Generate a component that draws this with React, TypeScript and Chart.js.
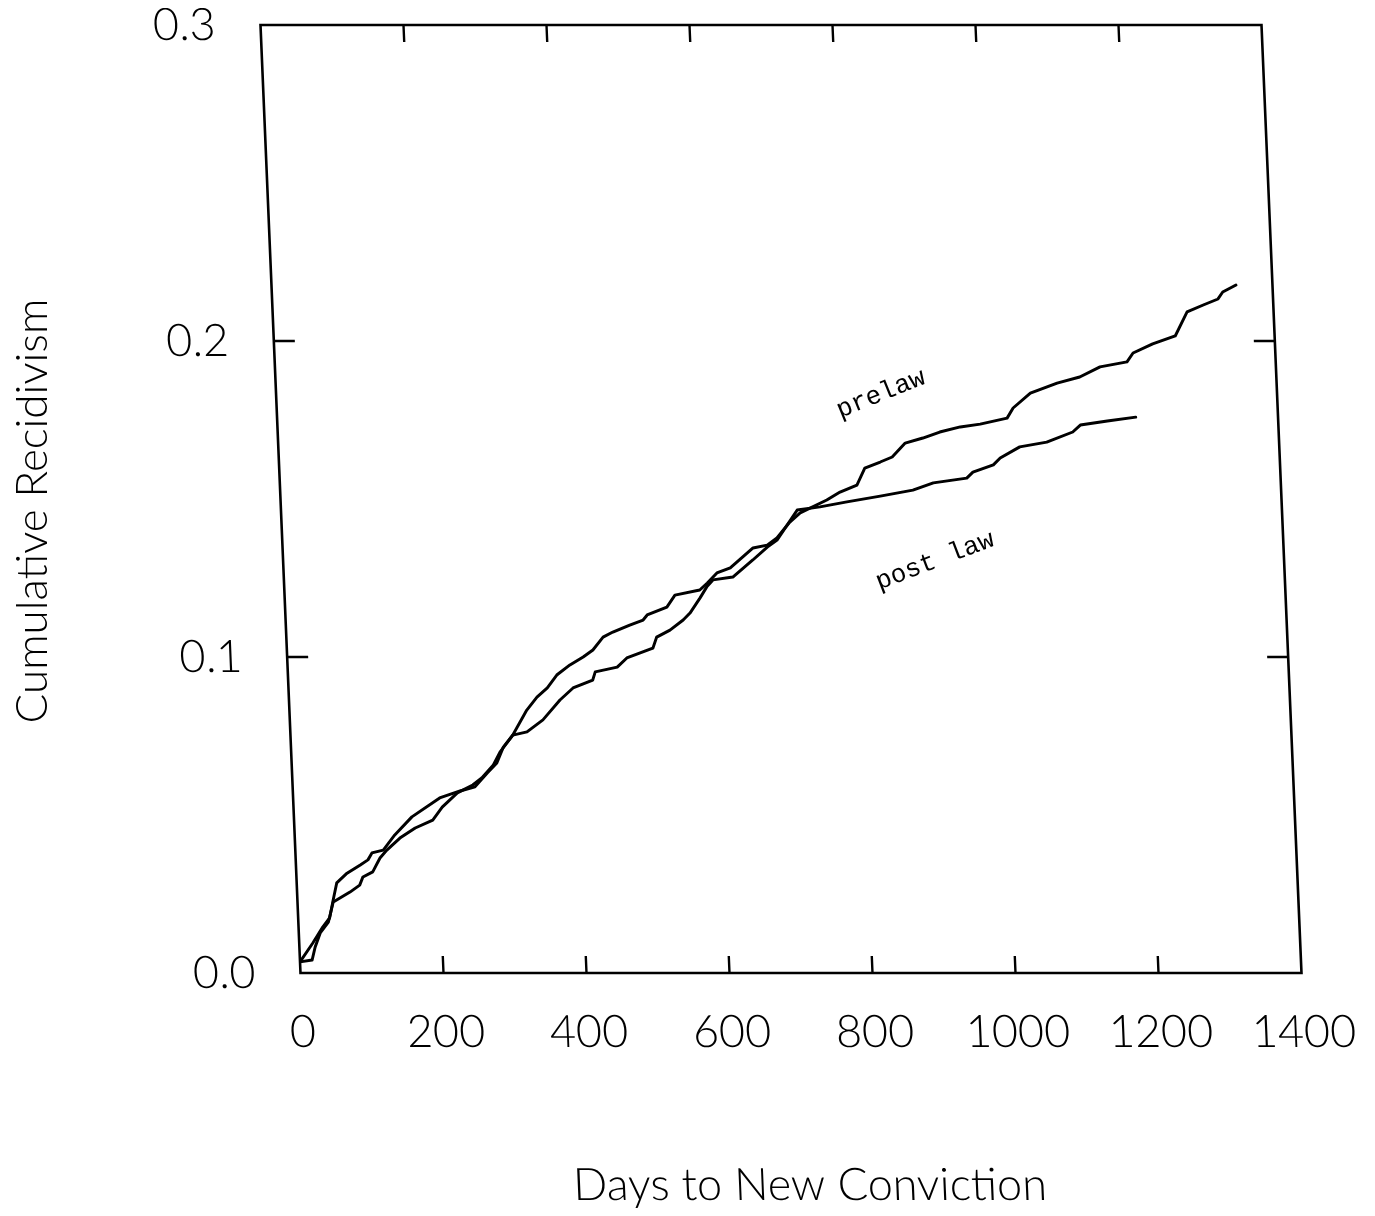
import React, { useEffect, useRef } from "react";
import { Chart, registerables } from "chart.js";

Chart.register(...registerables);

// ---- data ----
const xTickValues = [0, 200, 400, 600, 800, 1000, 1200, 1400];
const yTickValues = [0, 0.1, 0.2, 0.3];
const innerXTicks = [200, 400, 600, 800, 1000, 1200];
const innerYTicks = [0.1, 0.2];

const prelawDays = [
  0, 19, 34, 44, 50, 56, 71, 90, 101, 107, 123, 140, 165, 205, 234, 255, 273, 287, 297, 311,
  332, 347, 362, 376, 395, 414, 428, 443, 457, 481, 500, 506, 534, 546, 581, 592, 606, 625,
  658, 678, 692, 711, 726, 764, 783, 807, 819, 841, 858, 877, 902, 926, 955, 983, 1021, 1030,
  1055, 1093, 1125, 1154, 1192, 1201, 1229, 1261, 1279, 1302, 1323, 1330, 1349,
];
const prelawRate = [
  0.0035, 0.0095, 0.0146, 0.0174, 0.0231, 0.0285, 0.0316, 0.0342, 0.0358, 0.038, 0.0389,
  0.0437, 0.0494, 0.0554, 0.0576, 0.0589, 0.0633, 0.0665, 0.0715, 0.0753, 0.0832, 0.0873,
  0.0902, 0.0943, 0.0975, 0.1, 0.1022, 0.1063, 0.1079, 0.1101, 0.1117, 0.1133, 0.1158,
  0.1196, 0.1212, 0.1234, 0.1266, 0.1282, 0.1345, 0.1354, 0.1377, 0.1427, 0.1456, 0.1497,
  0.1522, 0.1544, 0.1598, 0.1617, 0.1633, 0.1677, 0.1693, 0.1712, 0.1728, 0.1737, 0.1756,
  0.1788, 0.1835, 0.1867, 0.1886, 0.1918, 0.1934, 0.1962, 0.1991, 0.2016, 0.2092, 0.2114,
  0.2133, 0.2155, 0.2177,
];

const postlawDays = [
  0, 17, 22, 30, 42, 50, 74, 88, 93, 107, 114, 118, 128, 147, 169, 194, 208, 230, 252, 265,
  282, 292, 311, 331, 354, 379, 398, 426, 430, 461, 475, 512, 518, 537, 556, 566, 581, 591,
  600, 628, 657, 678, 692, 722, 754, 792, 839, 885, 914, 961, 970, 999, 1009, 1037, 1075,
  1112, 1123, 1161, 1201,
];
const postlawRate = [
  0.0035, 0.0041, 0.0082, 0.0127, 0.0161, 0.0225, 0.0256, 0.0278, 0.0304, 0.032, 0.0348,
  0.0364, 0.0389, 0.0427, 0.0459, 0.0484, 0.0525, 0.057, 0.0595, 0.0617, 0.0658, 0.0699,
  0.0753, 0.0763, 0.0801, 0.0864, 0.0902, 0.0927, 0.0953, 0.0968, 0.0997, 0.1028, 0.1063,
  0.1085, 0.1117, 0.1139, 0.1187, 0.1222, 0.1244, 0.1253, 0.1307, 0.1348, 0.137, 0.1465,
  0.1475, 0.1491, 0.1509, 0.1528, 0.1551, 0.1566, 0.1585, 0.1608, 0.163, 0.1665, 0.168,
  0.1712, 0.1734, 0.1747, 0.1759,
];

const xTitle = "Days to New Conviction";
const yTitle = "Cumulative Recidivism";
const seriesLabels = ["prelaw", "post law"];

// ---- layout constants ----
const W = 1359;
const H = 1200;
const SKEW = 0.0422;
const AREA = { left: 292.5, right: 1293.5, top: 17, bottom: 965 };
const FONT = "Lato, 'DejaVu Sans', sans-serif";

const framePlugin = {
  id: "skewFrame",
  afterLayout(chart: any) {
    const ca = chart.chartArea;
    ca.left = AREA.left;
    ca.right = AREA.right;
    ca.top = AREA.top;
    ca.bottom = AREA.bottom;
    ca.width = AREA.right - AREA.left;
    ca.height = AREA.bottom - AREA.top;
    const xs = chart.scales.x;
    xs.left = AREA.left;
    xs.right = AREA.right;
    xs.width = AREA.right - AREA.left;
    xs.top = AREA.bottom;
    xs.bottom = H;
    xs.height = H - AREA.bottom;
    xs.configure();
    const ys = chart.scales.y;
    ys.left = 0;
    ys.right = AREA.left;
    ys.width = AREA.left;
    ys.top = AREA.top;
    ys.bottom = AREA.bottom;
    ys.height = AREA.bottom - AREA.top;
    ys.configure();
  },
  beforeDraw(chart: any) {
    const ctx = chart.ctx;
    ctx.save();
    ctx.transform(1, 0, SKEW, 1, -SKEW * chart.chartArea.bottom, 0);
  },
  afterDatasetsDraw(chart: any) {
    const ctx = chart.ctx;
    const { left, right, top, bottom } = chart.chartArea;
    const xs = chart.scales.x;
    const ys = chart.scales.y;
    ctx.save();
    ctx.strokeStyle = "#000";
    ctx.lineWidth = 2.6;
    ctx.lineJoin = "miter";
    ctx.strokeRect(left, top, right - left, bottom - top);
    ctx.lineWidth = 2.4;
    ctx.beginPath();
    innerXTicks.forEach((v) => {
      const px = xs.getPixelForValue(v);
      ctx.moveTo(px, bottom);
      ctx.lineTo(px, bottom - 17);
      ctx.moveTo(px, top);
      ctx.lineTo(px, top + 17);
    });
    innerYTicks.forEach((v) => {
      const py = ys.getPixelForValue(v);
      ctx.moveTo(left, py);
      ctx.lineTo(left + 21, py);
      ctx.moveTo(right, py);
      ctx.lineTo(right - 21, py);
    });
    ctx.stroke();
    ctx.restore();
  },
  afterDraw(chart: any) {
    const ctx = chart.ctx;
    ctx.restore();
    ctx.save();
    ctx.fillStyle = "#000";
    // y axis title
    ctx.save();
    ctx.translate(25, 503);
    ctx.rotate(-Math.PI / 2);
    ctx.font = `300 44px ${FONT}`;
    ctx.textAlign = "center";
    ctx.textBaseline = "middle";
    ctx.fillText(yTitle, 0, 0);
    ctx.restore();
    // series labels
    ctx.font = "26px 'Liberation Mono', 'DejaVu Sans Mono', monospace";
    ctx.textAlign = "center";
    ctx.textBaseline = "middle";
    ctx.save();
    ctx.translate(873, 386);
    ctx.rotate((-22 * Math.PI) / 180);
    ctx.fillText(seriesLabels[0], 0, 0);
    ctx.restore();
    ctx.save();
    ctx.translate(927, 553);
    ctx.rotate((-21 * Math.PI) / 180);
    ctx.fillText(seriesLabels[1], 0, 0);
    ctx.restore();
    ctx.restore();
  },
};

export default function App() {
  const canvasRef = useRef<HTMLCanvasElement | null>(null);

  useEffect(() => {
    const canvas = canvasRef.current;
    if (!canvas) return;
    const chart = new Chart(canvas, {
      type: "line",
      data: {
        datasets: [
          {
            label: seriesLabels[0],
            data: prelawDays.map((d, i) => ({ x: d, y: prelawRate[i] })),
            borderColor: "#000",
            borderWidth: 2.9,
            pointRadius: 0,
            tension: 0,
            fill: false,
            borderJoinStyle: "round",
            borderCapStyle: "round",
          },
          {
            label: seriesLabels[1],
            data: postlawDays.map((d, i) => ({ x: d, y: postlawRate[i] })),
            borderColor: "#000",
            borderWidth: 2.9,
            pointRadius: 0,
            tension: 0,
            fill: false,
            borderJoinStyle: "round",
            borderCapStyle: "round",
          },
        ],
      },
      options: {
        responsive: false,
        animation: false,
        devicePixelRatio: 1,
        layout: { padding: { top: 17, right: 65.5, left: 0, bottom: 0 } },
        plugins: {
          legend: { display: false },
          tooltip: { enabled: false },
        },
        scales: {
          x: {
            type: "linear",
            min: 0,
            max: 1400,
            grid: { display: false, drawTicks: false },
            border: { display: false },
            afterFit: (s: any) => {
              s.height = 235;
            },
            afterBuildTicks: (s: any) => {
              s.ticks = xTickValues.map((v) => ({ value: v }));
            },
            ticks: {
              color: "#000",
              padding: 32,
              autoSkip: false,
              maxRotation: 0,
              font: { family: FONT, size: 45, weight: "300" as any },
              callback: (v: any) => String(v),
            },
            title: {
              display: true,
              text: xTitle,
              color: "#000",
              padding: { top: 0, bottom: 0 },
              font: { family: FONT, size: 45, weight: "300" as any, lineHeight: 1 },
            },
          },
          y: {
            type: "linear",
            min: 0,
            max: 0.3,
            grid: { display: false, drawTicks: false },
            border: { display: false },
            afterFit: (s: any) => {
              s.width = 292.5;
            },
            afterBuildTicks: (s: any) => {
              s.ticks = yTickValues.map((v) => ({ value: v }));
            },
            ticks: {
              color: "#000",
              padding: 45,
              autoSkip: false,
              font: { family: FONT, size: 45, weight: "300" as any },
              callback: (v: any) => Number(v).toFixed(1),
            },
          },
        },
      },
      plugins: [framePlugin],
    });
    return () => chart.destroy();
  }, []);

  return (
    <div style={{ width: W, height: H, background: "#fff" }}>
      <canvas ref={canvasRef} width={W} height={H} style={{ display: "block", width: W, height: H }} />
    </div>
  );
}
